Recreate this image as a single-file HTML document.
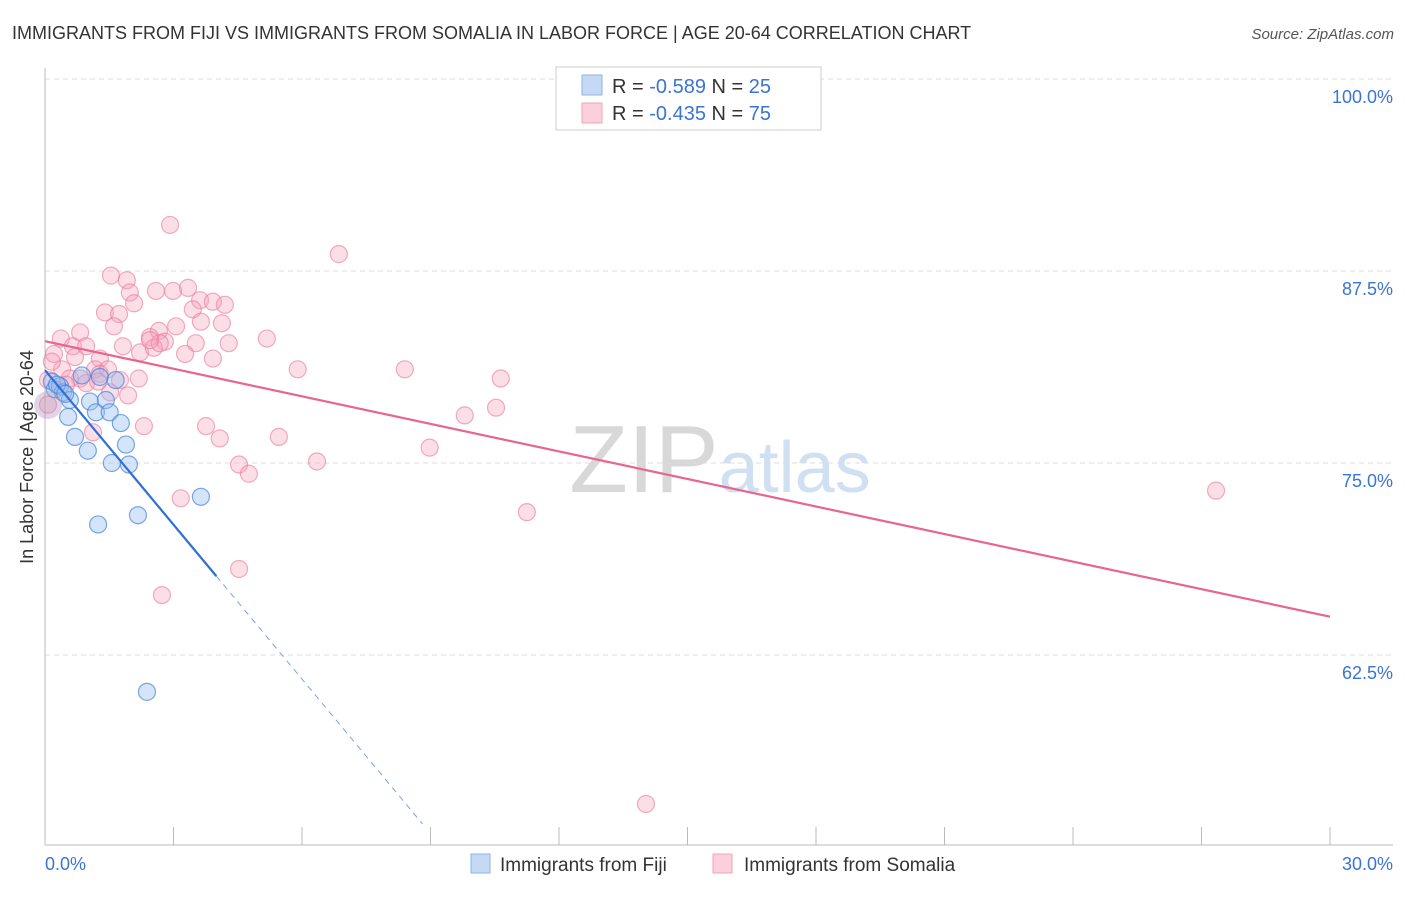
<!DOCTYPE html>
<html><head><meta charset="utf-8"><style>
body{margin:0;background:#fff;font-family:"Liberation Sans",sans-serif;}
svg text{font-family:"Liberation Sans",sans-serif;}
</style></head><body>
<svg id="c" width="1406" height="892">
<text x="12" y="39" font-size="18" fill="#333">IMMIGRANTS FROM FIJI VS IMMIGRANTS FROM SOMALIA IN LABOR FORCE | AGE 20-64 CORRELATION CHART</text>
<text x="1394" y="39" font-size="15" fill="#555" font-style="italic" text-anchor="end">Source: ZipAtlas.com</text>
<text x="33" y="457" font-size="18" fill="#333" text-anchor="middle" transform="rotate(-90 33 457)">In Labor Force | Age 20-64</text>
<text x="720" y="492" font-size="96" fill="#ddd" text-anchor="middle" font-family="Liberation Serif"><tspan fill="#d8d8d8">ZIP</tspan><tspan fill="#cfe0f3" font-family="Liberation Sans" font-size="72">atlas</tspan></text>
<g id="grid"></g><g id="pts"></g><g id="lines"></g>
<g>
<rect x="556" y="67" width="265" height="63" fill="#fff" stroke="#ccc"/>
<rect x="582" y="75" width="20" height="20" fill="#c5d9f5" stroke="#8fb2e8"/>
<rect x="582" y="103" width="20" height="20" fill="#fbd0dc" stroke="#efa3b9"/>
<text x="612" y="93" font-size="20" fill="#333">R = <tspan fill="#3a74d4">-0.589</tspan>   N = <tspan fill="#3a74d4">25</tspan></text>
<text x="612" y="120" font-size="20" fill="#333">R = <tspan fill="#3a74d4">-0.435</tspan>   N = <tspan fill="#3a74d4">75</tspan></text>
</g>
<g>
<rect x="471" y="854" width="19" height="19" fill="#c5d9f5" stroke="#8fb2e8"/>
<text x="500" y="871" font-size="19" fill="#333">Immigrants from Fiji</text>
<rect x="713" y="854" width="19" height="19" fill="#fbd0dc" stroke="#efa3b9"/>
<text x="744" y="871" font-size="19" fill="#333">Immigrants from Somalia</text>
</g>
</svg>
<script>
const yTicks=[100,87.5,75,62.5];
const xTickLabels=["0.0%","30.0%"];
const fijiX=[0.16,0.23,0.35,0.42,0.58,0.54,0.70,0.86,1.00,1.05,1.19,1.24,1.28,1.42,1.51,1.56,1.65,1.77,1.89,1.96,2.17,2.38,3.64,0.28,0.47];
const fijiY=[80.3,79.8,80.0,79.6,79.1,78.0,76.7,80.7,75.8,79.0,78.3,71.0,80.6,79.1,78.3,75.0,80.4,77.6,76.2,74.9,71.6,60.1,72.8,80.1,79.5];
const somX=[2.92,6.86,1.54,1.91,1.98,2.59,2.99,3.34,1.40,1.73,2.08,3.62,3.92,4.20,3.45,3.64,4.13,1.61,3.06,2.66,2.45,0.82,0.37,0.65,0.96,1.82,2.80,3.52,4.29,5.18,2.22,2.54,3.27,3.92,0.21,0.70,1.28,0.40,1.17,1.28,1.47,0.82,0.96,5.90,8.40,10.64,2.19,1.94,1.52,0.16,0.07,0.07,2.31,3.76,4.08,1.12,5.46,8.98,4.53,4.76,6.35,9.80,10.53,3.17,11.25,4.53,2.73,14.03,27.34,1.24,0.58,1.75,2.68,2.45,0.49];
const somY=[90.5,88.6,87.2,86.9,86.1,86.2,86.2,86.4,84.8,84.7,85.4,85.6,85.5,85.3,85.0,84.2,84.1,83.9,83.9,83.6,83.2,83.5,83.1,82.6,82.6,82.6,82.9,82.8,82.8,83.1,82.2,82.5,82.1,81.8,82.1,81.9,81.8,81.1,81.1,80.8,81.1,80.5,80.2,81.1,81.1,80.5,80.5,79.4,79.6,81.6,80.4,78.8,77.4,77.4,76.6,77.0,76.7,76.0,74.9,74.3,75.1,78.1,78.6,72.7,71.8,68.1,66.4,52.8,73.2,80.3,80.5,80.4,82.8,83.0,80.1];
const X0=45,X1=1330,Y100=79,PXPER=192/12.5;
const sx=v=>X0+(v/30)*(X1-X0);
const sy=v=>Y100+(100-v)*PXPER;
const NS="http://www.w3.org/2000/svg";
function mk(t,a,p){const e=document.createElementNS(NS,t);for(const k in a)e.setAttribute(k,a[k]);p.appendChild(e);return e;}
const svg=document.getElementById('c');
const grid=document.getElementById('grid'),pts=document.getElementById('pts'),lines=document.getElementById('lines');
yTicks.forEach(t=>{
 const l=mk('line',{x1:45,x2:1393,y1:sy(t),y2:sy(t),stroke:'#ddd','stroke-dasharray':'5,4'},grid);
 
 
 const tx=mk('text',{x:1393,y:sy(t)+24,'font-size':18,fill:'#3a74d4','text-anchor':'end'},grid);
 tx.textContent=t.toFixed(1)+'%';
 
 
});
const ax=mk('line',{x1:45,x2:45,y1:68,y2:845,stroke:'#bbb'},grid);


const bx=mk('line',{x1:45,x2:1393,y1:845,y2:845,stroke:'#bbb'},grid);


for(let i=0;i<=10;i++){const x=sx(i*3);const t=mk('line',{x1:x,x2:x,y1:827,y2:845,stroke:'#bbb'},grid);
 
 }
[[0,'start'],[30,'end']].forEach((d,i)=>{const t=mk('text',{x:d[0]==0?45:1393,y:870,'font-size':18,fill:'#3a74d4','text-anchor':d[1]},grid);t.textContent=xTickLabels[i];
 
 });
somX.forEach((v,i)=>{const c=mk('circle',{cx:sx(v),cy:sy(somY[i]),r:8.5,fill:'rgba(246,160,186,0.35)',stroke:'rgba(232,120,155,0.6)','stroke-width':1.2},pts);
 
 });
fijiX.forEach((v,i)=>{const c=mk('circle',{cx:sx(v),cy:sy(fijiY[i]),r:8.5,fill:'rgba(150,190,240,0.4)',stroke:'rgba(70,130,215,0.7)','stroke-width':1.2},pts);
 
 });
const big=mk('circle',{cx:48,cy:405,r:14,fill:'rgba(180,150,190,0.4)'},pts);


function fit(xs,ys){const n=xs.length,mx=xs.reduce((a,b)=>a+b)/n,my=ys.reduce((a,b)=>a+b)/n;let sxy=0,sxx=0;for(let i=0;i<n;i++){sxy+=(xs[i]-mx)*(ys[i]-my);sxx+=(xs[i]-mx)**2;}const b=sxy/sxx;return [my-b*mx,b];}
const [as,bs]=fit(somX,somY);
const pl=mk('line',{x1:sx(0),y1:sy(as),x2:sx(30),y2:sy(as+bs*30),stroke:'#e8658f','stroke-width':2.2},lines);


const [af,bf]=fit(fijiX,fijiY);
const fl=mk('line',{x1:sx(0),y1:sy(af),x2:sx(4),y2:sy(af+bf*4),stroke:'#2f6fd6','stroke-width':2.2},lines);


const xe=(51.5-af)/bf;
const fd=mk('line',{x1:sx(4),y1:sy(af+bf*4),x2:sx(xe),y2:sy(af+bf*xe),stroke:'#7aa3e0','stroke-width':1,'stroke-dasharray':'6,5'},lines);


</script>
</body></html>
